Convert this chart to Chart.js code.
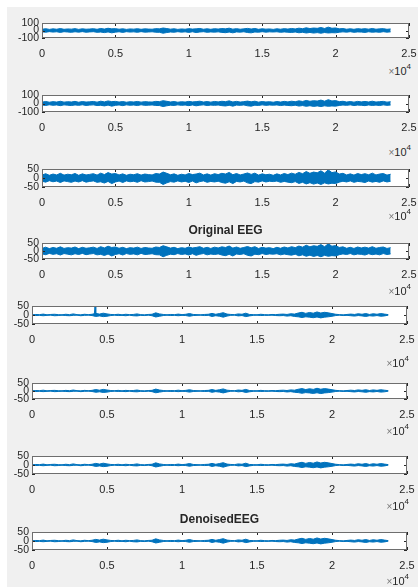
<!DOCTYPE html>
<html>
<head>
<meta charset="utf-8">
<script src="https://cdn.jsdelivr.net/npm/chart.js@4.4.1/dist/chart.umd.min.js"></script>
<style>
  html, body { margin: 0; padding: 0; background: #fff; }
  #fig { position: absolute; left: 7px; top: 7px; width: 411px; height: 580px; background: #f0f0f0; }
  canvas { position: absolute; left: 0; }
  .ttl { position: absolute; font: bold 12px "Liberation Sans", Arial, sans-serif; color: #262626; transform: translate(-50%, -50%); white-space: nowrap; }
  .exp { position: absolute; font: 11px "Liberation Sans", Arial, sans-serif; color: #262626; transform: translateY(-50%); white-space: nowrap; }
  .exp span.x { color: #777; font-size: 10px; }
  .exp sup { font-size: 8px; position: relative; top: -1px; }
</style>
</head>
<body>
<div id="fig"></div>
<div id="page"></div>
<script>
// sample index ticks (x axis shown in units of 10^4)
const xTicks = [0, 5000, 10000, 15000, 20000, 25000];
const binStep = 250;   // samples per envelope bin

// original EEG envelope, upper / lower value per 250-sample bin
const origHi = [16, 24, 15, 22, 17, 26, 16, 21, 18, 25, 15, 23, 17, 20, 24, 16,
                27, 19, 30, 22, 25, 17, 23, 15, 21, 18, 24, 16, 22, 19, 17, 25,
                22, 33, 26, 18, 23, 15, 21, 17, 25, 19, 22, 27, 17, 23, 16, 24,
                19, 26, 22, 31, 18, 25, 17, 22, 28, 20, 27, 16, 23, 18, 21, 15,
                23, 17, 25, 19, 27, 21, 31, 24, 36, 26, 33, 29, 40, 27, 45, 30,
                34, 22, 26, 17, 23, 16, 25, 19, 24, 18, 27, 17, 22, 25, 16, 21];
const origLo = [-18, -23, -15, -21, -17, -25, -16, -20, -24, -17, -22, -15, -23, -19, -16, -24,
                -21, -28, -19, -31, -22, -17, -25, -16, -21, -18, -24, -15, -22, -20, -17, -23,
                -24, -36, -27, -20, -23, -16, -22, -18, -25, -17, -27, -20, -16, -24, -19, -22,
                -18, -25, -29, -21, -31, -19, -22, -17, -27, -31, -20, -23, -16, -22, -18, -20,
                -17, -24, -19, -23, -26, -20, -30, -24, -33, -26, -34, -28, -36, -27, -33, -29,
                -31, -23, -18, -22, -16, -24, -19, -21, -25, -17, -23, -19, -24, -16, -22, -18];

// denoised EEG envelope
const denHi = [1, 3, 2, 5, 1, 3, 4, 2, 1, 4, 2, 6, 2, 1, 4, 2,
               4, 9, 5, 10, 6, 3, 2, 4, 1, 4, 2, 3, 6, 2, 1, 3,
               4, 12, 6, 3, 1, 3, 2, 5, 2, 4, 8, 3, 2, 1, 3, 4,
               9, 4, 8, 13, 5, 3, 2, 6, 4, 10, 3, 2, 1, 4, 2, 1,
               3, 2, 4, 5, 3, 7, 5, 11, 15, 9, 14, 10, 17, 11, 15, 12,
               8, 4, 2, 1, 3, 5, 3, 7, 4, 8, 3, 7, 4, 8, 5, 2];
const denLo = [-1, -3, -2, -4, -2, -1, -4, -3, -1, -3, -4, -2, -1, -4, -2, -1,
               -3, -8, -5, -9, -7, -3, -1, -3, -2, -4, -1, -4, -5, -2, -3, -1,
               -4, -11, -7, -3, -1, -3, -2, -4, -2, -3, -7, -3, -2, -1, -3, -2,
               -8, -4, -7, -12, -6, -2, -1, -5, -3, -9, -5, -2, -1, -3, -2, -2,
               -1, -3, -4, -3, -6, -4, -8, -10, -14, -10, -12, -15, -11, -16, -12, -10,
               -7, -3, -1, -3, -2, -4, -6, -3, -5, -8, -4, -6, -3, -7, -5, -1];

// single large transient in the first denoised trace
const spikeX = [4150, 4200, 4250];
const spikeY = [0, 50, 0];

function toPoints(vals) {
  return vals.map(function(v, i) { return {x: i * binStep, y: v}; });
}

// layout of the 8 axes: [left, top, right, bottom] in page pixels
const plots = [
  {box: [42, 23, 409, 38],   lim: 100, sig: 'orig', expY: 70},
  {box: [42, 95, 409, 112],  lim: 100, sig: 'orig', expY: 151},
  {box: [42, 169, 409, 187], lim: 50,  sig: 'orig', expY: 215},
  {box: [42, 243, 409, 259], lim: 50,  sig: 'orig', expY: 290, title: 'Original EEG'},
  {box: [32, 306, 407, 324], lim: 50,  sig: 'den', expY: 362, spike: true},
  {box: [32, 383, 407, 399], lim: 50,  sig: 'den', expY: 430},
  {box: [32, 456, 407, 474], lim: 50,  sig: 'den', expY: 505},
  {box: [32, 532, 407, 550], lim: 50,  sig: 'den', expY: 580, title: 'DenoisedEEG'}
];

const blue = '#0072bd';
const axColor = '#262626';
const yFontCss = '10.5px "Liberation Sans", Arial, sans-serif';
const font = {family: '"Liberation Sans", Arial, sans-serif', size: 11};

const boxPlugin = {
  id: 'matlabBox',
  beforeDraw(chart) {
    const a = chart.chartArea, ctx = chart.ctx;
    ctx.save();
    ctx.fillStyle = '#ffffff';
    ctx.fillRect(a.left, a.top, a.right - a.left, a.bottom - a.top);
    ctx.restore();
  },
  afterDraw(chart) {
    const a = chart.chartArea, ctx = chart.ctx;
    const xs = chart.scales.x, ys = chart.scales.y;
    const yVals = chart.options.yTickValues;
    ctx.save();
    ctx.strokeStyle = axColor;
    ctx.lineWidth = 1;
    ctx.beginPath();
    xs.ticks.forEach(function(t) {
      const px = Math.round(xs.getPixelForValue(t.value)) + 0.5;
      ctx.moveTo(px, a.bottom); ctx.lineTo(px, a.bottom - 3);
      ctx.moveTo(px, a.top); ctx.lineTo(px, a.top + 3);
    });
    yVals.forEach(function(v) {
      const py = Math.round(ys.getPixelForValue(v)) + 0.5;
      ctx.moveTo(a.left, py); ctx.lineTo(a.left + 3, py);
      ctx.moveTo(a.right, py); ctx.lineTo(a.right - 3, py);
    });
    ctx.stroke();
    ctx.strokeStyle = '#6e6e6e';
    ctx.strokeRect(a.left + 0.5, a.top + 0.5, a.right - a.left - 1, a.bottom - a.top - 1);
    // y tick labels (all three, overlapping like the original)
    ctx.fillStyle = axColor;
    ctx.font = yFontCss;
    ctx.textAlign = 'right';
    ctx.textBaseline = 'middle';
    yVals.forEach(function(v) {
      ctx.fillText(String(v), a.left - 3, ys.getPixelForValue(v));
    });
    ctx.restore();
  }
};

const page = document.getElementById('page');

plots.forEach(function(p) {
  const [l, t, r, b] = p.box;
  const padTop = 8, xAxisH = 24;
  const cv = document.createElement('canvas');
  const h = (b - t) + padTop + xAxisH;
  cv.width = 418; cv.height = h;
  cv.style.width = '418px'; cv.style.height = h + 'px';
  cv.style.top = (t - padTop) + 'px';
  page.appendChild(cv);

  const hi = p.sig === 'orig' ? origHi : denHi;
  const lo = p.sig === 'orig' ? origLo : denLo;
  const datasets = [
    {data: toPoints(hi), borderColor: blue, borderWidth: 1, pointRadius: 0, tension: 0, fill: false},
    {data: toPoints(lo), borderColor: blue, borderWidth: 1, pointRadius: 0, tension: 0,
     fill: '-1', backgroundColor: blue}
  ];
  if (p.spike) {
    datasets.push({
      data: spikeX.map(function(x, i) { return {x: x, y: spikeY[i]}; }),
      borderColor: blue, borderWidth: 1, pointRadius: 0, tension: 0, fill: false
    });
  }

  new Chart(cv, {
    type: 'line',
    data: {datasets: datasets},
    plugins: [boxPlugin],
    options: {
      responsive: false,
      animation: false,
      devicePixelRatio: 1,
      yTickValues: [-p.lim, p.lim, 0],
      layout: {padding: {top: padTop, right: 418 - r, left: 0, bottom: 0}},
      plugins: {legend: {display: false}, tooltip: {enabled: false}},
      scales: {
        x: {
          type: 'linear', min: 0, max: 25000,
          afterBuildTicks: function(s) { s.ticks = xTicks.map(function(v) { return {value: v}; }); },
          afterFit: function(s) { s.height = xAxisH; },
          grid: {display: false}, border: {display: false},
          ticks: {
            autoSkip: false, maxRotation: 0, padding: 1, color: axColor, font: font,
            callback: function(v) { return String(v / 10000); }
          }
        },
        y: {
          type: 'linear', min: -p.lim, max: p.lim,
          afterFit: function(s) { s.width = l; },
          grid: {display: false}, border: {display: false},
          ticks: {display: false}
        }
      }
    }
  });

  const ex = document.createElement('div');
  ex.className = 'exp';
  ex.innerHTML = '<span class="x">×</span>10<sup>4</sup>';
  ex.style.right = (418 - r - 2) + 'px';
  ex.style.top = p.expY + 'px';
  page.appendChild(ex);

  if (p.title) {
    const tt = document.createElement('div');
    tt.className = 'ttl';
    tt.textContent = p.title;
    tt.style.left = ((l + r) / 2) + 'px';
    tt.style.top = (t - 13) + 'px';
    page.appendChild(tt);
  }
});
</script>
</body>
</html>
